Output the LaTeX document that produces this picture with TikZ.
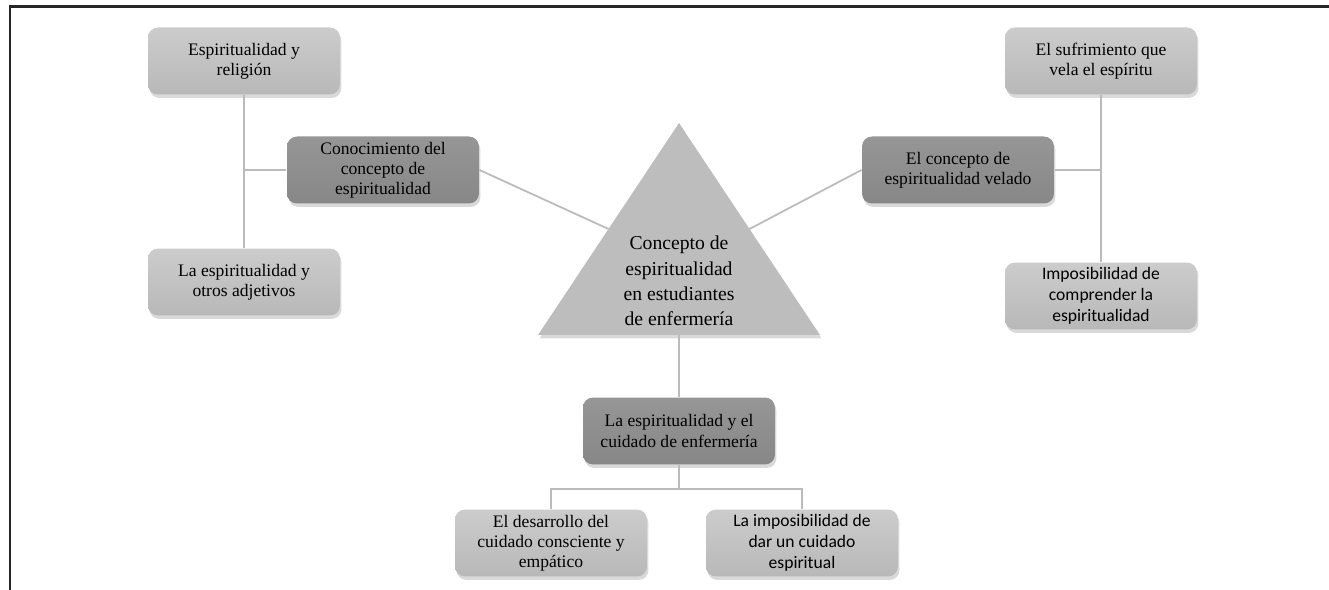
\documentclass[tikz,border=0pt]{standalone}
\usepackage{fontspec}
\setmainfont{Liberation Serif}
\newfontfamily\calibri{Carlito}
\usetikzlibrary{positioning, shadows, calc}

\definecolor{lighttop}{HTML}{CCCCCC}
\definecolor{lightbot}{HTML}{B8B8B8}
\definecolor{darktop}{HTML}{969696}
\definecolor{darkbot}{HTML}{878787}
\definecolor{trigray}{HTML}{BDBDBD}
\definecolor{linegray}{HTML}{BBBBBB}

\begin{document}
\begin{tikzpicture}[
            x = 0.02cm,
            y = -0.02cm,
            semithick
        ]

        \tikzstyle{topic}=[
            rectangle,
            rounded corners = 2mm,
            minimum width = 3.84cm,
            minimum height = 1.34cm,
            inner sep = 2pt,
            align = center,
            font = \fontsize{10}{11.4}\selectfont,
            top color = lighttop,
            bottom color = lightbot,
            drop shadow = {shadow xshift=0.3mm, shadow yshift=-0.7mm, opacity=0.3}
        ]
        \tikzstyle{theme}=[topic, top color = darktop, bottom color = darkbot]
        \tikzstyle{sans}=[font = \calibri\fontsize{10}{11.9}\selectfont]
        \tikzstyle{link}=[draw = linegray, line width = 1pt]

        \useasboundingbox (0,0) rectangle (1329,590);
        \draw[line width = 0.06cm, black!85] (10,590) -- (10,7) -- (1329,7);

        % central triangle
        \coordinate (apex) at (679,123);
        \coordinate (bl) at (538,335);
        \coordinate (br) at (820,335);
        \path[fill = trigray, drop shadow = {shadow xshift=0.3mm, shadow yshift=-0.7mm, opacity=0.3}]
            (apex) -- (br) -- (bl) -- cycle;
        \node[align = center, font = \fontsize{11.2}{14.4}\selectfont] (concept) at (679,281)
            {Concepto de\\espiritualidad\\en estudiantes\\de enfermería};

		\node[theme] (know) at (383,170) {Conocimiento del\\concepto de\\espiritualidad};
        \node[topic] (religion) at (244,61) {Espiritualidad y\\religión};
        \node[topic] (adjectives) [below=3.06cm of religion] {La espiritualidad y\\otros adjetivos};

        \node[theme] (veiled) at (958,170) {El concepto de\\espiritualidad velado};
        \node[topic] (suffering) at (1101,61) {El sufrimiento que\\vela el espíritu};
        \node[topic, sans] (unable) [below=3.34cm of suffering] {Imposibilidad de\\comprender la\\espiritualidad};

        \node[theme] (care) at (679,431) {La espiritualidad y el\\cuidado de enfermería};
        \node[topic] (develop) at (551,543) {El desarrollo del\\cuidado consciente y\\empático};
        \node[topic, sans] (nocare) at (802,543) {La imposibilidad de\\dar un cuidado\\espiritual};
        \coordinate (fork) at (679,489);

        % links
        \path[link] (religion) -- (adjectives);
        \path[link] (know.west) -- (religion.south |- know.west);
        \path[link] (know.east) -- ($(apex)!0.5!(bl)$);
        \path[link] (suffering) -- (unable);
        \path[link] (veiled.east) -- (suffering.south |- veiled.east);
        \path[link] (veiled.west) -- ($(apex)!0.5!(br)$);
        \path[link] ($(bl)!0.5!(br)$) -- (care.north);
        \path[link] (care.south) -- (fork);
        \path[link] (develop.north) |- (fork) -| (nocare.north);

    \end{tikzpicture}
\end{document}
